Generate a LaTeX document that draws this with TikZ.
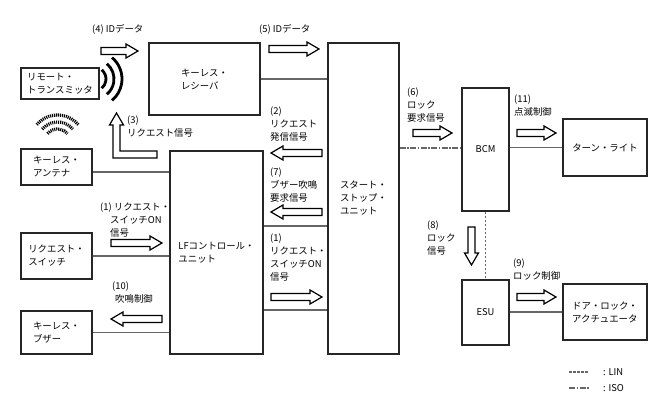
\documentclass[tikz,border=0pt]{standalone}
\usepackage{fontspec}
\setmainfont{Noto Sans CJK JP}
\newcommand\lblfont{\fontsize{9.4}{13}\selectfont}
\newcommand\blockarrow[5]{%
  \coordinate (#1) at (#2,#3);
  \draw[barrowline, shift={(#1)}, rotate=#5]
    ({-#4/2},-3.5) -- ({#4/2-12},-3.5) -- ({#4/2-12},-7) -- ({#4/2},0)
    -- ({#4/2-12},7) -- ({#4/2-12},3.5) -- ({-#4/2},3.5) -- cycle;}
\begin{document}
\begin{tikzpicture}[x=1pt,y=-1pt,
  box/.style={draw=black!85, line width=1.4pt, inner sep=0pt, align=left, font=\lblfont},
  conn/.style={draw=black!60, line width=1.1pt},
  iso/.style={conn, dash pattern=on 6pt off 1.5pt on 1.5pt off 1.5pt},
  lin/.style={conn, dash pattern=on 2.5pt off 1.5pt},
  barrowline/.style={draw=black, line width=1.2pt, fill=white, line join=miter},
  lbl/.style={inner sep=0pt, align=left, anchor=north west, font=\lblfont},
  wave/.style={line width=2.8pt, line cap=butt},
  dwave/.style={line width=3.2pt, dash pattern=on 1.1pt off 0.9pt},
]
\fill[white] (0,0) rectangle (658,406);
\useasboundingbox (0,0) rectangle (658,406);

% boxes
\node[box, minimum width=78pt, minimum height=31pt] (remote) at (60,83.5) {リモート・\\トランスミッタ};
\node[box, minimum width=111pt, minimum height=72pt] (recv) at (204.5,79) {キーレス・\\レシーバ};
\node[box, minimum width=71pt, minimum height=311pt] (ssu) at (363.5,198.5) {スタート・\\ストップ・\\ユニット};
\node[box, minimum width=93pt, minimum height=203pt] (lf) at (216.5,252.5) {LFコントロール・\\ユニット};
\node[box, minimum width=71pt, minimum height=36pt] (ant) at (56.5,167) {キーレス・\\アンテナ};
\node[box, minimum width=71pt, minimum height=46pt] (sw) at (56.5,256) {リクエスト・\\スイッチ};
\node[box, minimum width=71pt, minimum height=43pt] (buz) at (56.5,332.5) {キーレス・\\ブザー};
\node[box, minimum width=47pt, minimum height=123pt] (bcm) at (485.5,149.5) {BCM};
\node[box, minimum width=47pt, minimum height=65pt] (esu) at (485.5,312.5) {ESU};
\node[box, minimum width=84pt, minimum height=57pt] (turn) at (605,147.5) {ターン・ライト};
\node[box, minimum width=84pt, minimum height=56pt] (door) at (605,312) {ドア・ロック・\\アクチュエータ};

% connectors
\draw[conn] (recv.east) -- (recv.east -| ssu.west);
\draw[conn] (ant.east |- 0,172) -- (lf.west |- 0,172);
\draw[conn] (sw.east) -- (sw.east -| lf.west);
\draw[conn] (buz.east) -- (buz.east -| lf.west);
\draw[conn] (lf.east |- 0,226) -- (ssu.west |- 0,226);
\draw[conn] (lf.east |- 0,310) -- (ssu.west |- 0,310);
\draw[iso] (ssu.east |- 0,148) -- (bcm.west |- 0,148);
\draw[conn] (bcm.east |- turn.west) -- (turn.west);
\draw[lin] (bcm.south) -- (esu.north);
\draw[conn] (esu.east |- door.west) -- (door.west);

% block arrows
\blockarrow{a4}{119.5}{51}{37}{0}
\blockarrow{a5}{294}{49}{50}{0}
\blockarrow{a2}{296.5}{153}{51}{180}
\blockarrow{a7}{296.5}{212}{51}{180}
\blockarrow{a1r}{296.5}{297}{51}{0}
\blockarrow{a1l}{136.5}{243}{51}{0}
\blockarrow{a10}{136.5}{319}{51}{180}
\blockarrow{a6}{432.5}{133}{39}{0}
\blockarrow{a11}{536.5}{133}{39}{0}
\blockarrow{a9}{536.5}{297}{39}{0}
\blockarrow{a8}{471.5}{246}{38}{-90}
% (3) L-shaped arrow
\draw[barrowline] (113,158) -- (157,158) -- (157,151) -- (120,151) -- (120,125)
  -- (123.5,125) -- (116.5,113) -- (109.5,125) -- (113,125) -- cycle;

% waves
\foreach \r in {12,20,28}
  \draw[wave] (94,79) ++(-50:\r) arc[start angle=-50, end angle=50, radius=\r];
\foreach \r in {13,20,27}
  \draw[dwave] (57.5,142) ++(220:\r) arc[start angle=220, end angle=320, radius=\r];

% labels
\node[lbl] (l4) at (92,24.5) {(4) IDデータ};
\node[lbl] (l5) at (259,24.5) {(5) IDデータ};
\node[lbl] (l2) at (270,106.5) {(2)\\リクエスト\\発信信号};
\node[lbl] (l7) at (270,167.5) {(7)\\ブザー吹鳴\\要求信号};
\node[lbl] (l1r) at (270,233.5) {(1)\\リクエスト・\\スイッチON\\信号};
\node[lbl] (l3) at (127,115.5) {(3)\\リクエスト信号};
\node[lbl] (l1l) at (100,202.5) {(1) リクエスト・\\\hspace*{10pt}スイッチON\\\hspace*{10pt}信号};
\node[lbl] (l10) at (112,281.5) {(10)\\\hspace*{3pt}吹鳴制御};
\node[lbl] (l6) at (407,88) {(6)\\ロック\\要求信号};
\node[lbl] (l11) at (514,94.5) {(11)\\点滅制御};
\node[lbl] (l9) at (513,258.5) {(9)\\ロック制御};
\node[lbl] (l8) at (427,220.5) {(8)\\ロック\\信号};

% legend
\coordinate (lg1a) at (569,372);
\coordinate (lg1b) at (589,372);
\coordinate (lg2a) at (569,388);
\coordinate (lg2b) at (589,388);
\draw[lin] (lg1a) -- (lg1b);
\draw[iso] (lg2a) -- (lg2b);
\node[anchor=west, inner sep=0pt, font=\lblfont] (lgl) at (603,372) {: LIN};
\node[anchor=west, inner sep=0pt, font=\lblfont] (lgi) at (603,388) {: ISO};
\end{tikzpicture}
\end{document}
